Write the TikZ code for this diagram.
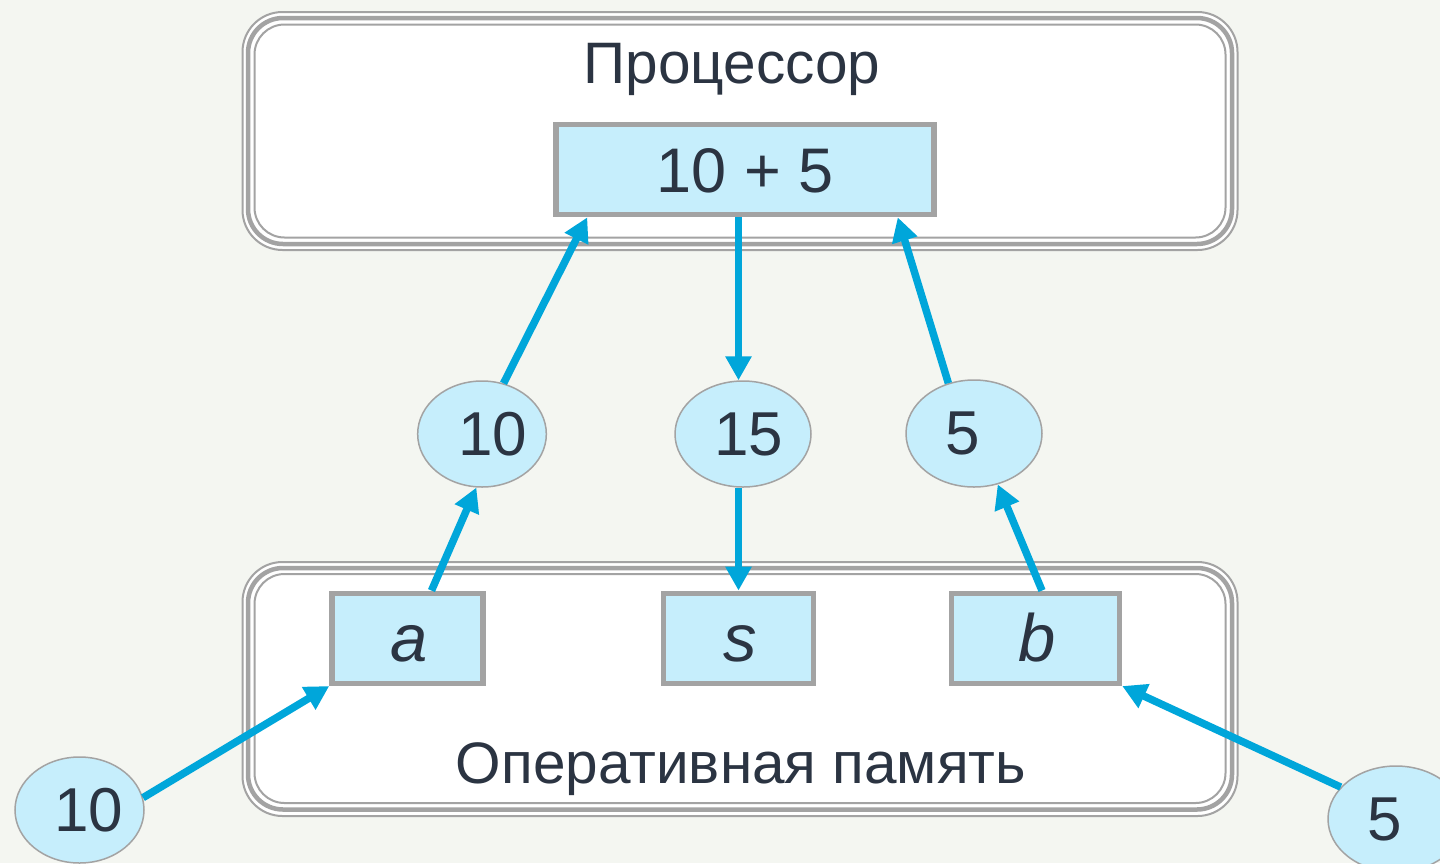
\documentclass[tikz,border=0pt]{standalone}
\usepackage{fontspec}
\setmainfont{Liberation Sans}
\usetikzlibrary{arrows.meta,shapes.geometric}
\definecolor{bgc}{HTML}{F4F6F1}
\definecolor{cellc}{HTML}{C6EEFC}
\definecolor{framec}{HTML}{A3A3A3}
\definecolor{arrowc}{HTML}{00A6DA}
\definecolor{txtc}{HTML}{2B3442}
\begin{document}
\begin{tikzpicture}[x=1pt,y=-1pt,
  cell/.style={draw=framec, fill=cellc, line width=5.5pt, inner sep=0pt,
    minimum height=90pt, text=txtc, text height=47pt, text depth=0pt,
    font=\fontsize{67}{70}\selectfont\itshape},
  val/.style={ellipse, draw=framec, fill=cellc, line width=1.5pt, inner sep=0pt,
    minimum height=106pt, text=txtc, font=\fontsize{62}{66}\selectfont},
  arr/.style={draw=arrowc, line width=7.5pt, -{Triangle[length=24pt,width=25pt]}},
  lbl/.style={text=txtc, inner sep=0pt, anchor=base, font=\fontsize{58.5}{62}\selectfont},
  frameout/.style={draw=framec, line width=2pt},
  framemid/.style={draw=framec, line width=4.5pt},
]
\useasboundingbox (0,0) rectangle (1440,863);
\fill[bgc] (0,0) rectangle (1440,863);

% Processor frame
\fill[white, rounded corners=40pt] (242.5,12) rectangle (1237.5,250);
\draw[frameout, rounded corners=40pt] (242.5,12) rectangle (1237.5,250);
\draw[framemid, rounded corners=35pt] (248,18) rectangle (1232,244);
\draw[frameout, rounded corners=30pt] (254.5,24.5) rectangle (1225.5,237.5);

% Memory frame
\fill[white, rounded corners=40pt] (242.5,562) rectangle (1237.5,816);
\draw[frameout, rounded corners=40pt] (242.5,562) rectangle (1237.5,816);
\draw[framemid, rounded corners=35pt] (248,568) rectangle (1232,809.5);
\draw[frameout, rounded corners=30pt] (254.5,574) rectangle (1225.5,803);

\node[lbl] (proclbl) at (732,83) {Процессор};
\node[lbl] (memlbl) at (741,783) {Оперативная память};

\node[cell, minimum width=378pt, text height=45pt, font=\fontsize{63}{66}\selectfont] (sum) at (745,169.6) {10 + 5};

\node[val, minimum width=122pt] (e10) at (482,434) {\hspace*{22pt}10};
\node[val, minimum width=136pt] (e15) at (743,434) {\hspace*{12pt}15};
\node[val, minimum width=136pt, minimum height=107pt] (e5) at (974,433.5) {5\hspace*{22pt}};

\node[cell, minimum width=151pt] (a) at (407.5,638.3) {\hspace*{3pt}a};
\node[cell, minimum width=150pt] (s) at (738.5,638.3) {\hspace*{3pt}s};
\node[cell, minimum width=168pt] (b) at (1035.5,638.3) {\hspace*{3pt}b};

\node[val, minimum width=129pt] (in10) at (79.5,810) {\hspace*{18pt}10};
\node[val, minimum width=136pt] (in5) at (1396,819) {5\hspace*{22pt}};

\draw[arr] (e10.67) -- ([xshift=34pt]sum.south west);
\draw[arr] (sum.south -| s.north) -- (e15.north -| s.north);
\draw[arr] (e5.117) -- ([xshift=-39pt]sum.south east);
\draw[arr] ([xshift=24pt]a.north) -- (e10.264);
\draw[arr] (e15.south -| s.north) -- (s.north);
\draw[arr] ([xshift=6.5pt]b.north) -- (e5.295);
\draw[arr] (in10.11) -- (a.south west);
\draw[arr] (in5.150) -- (b.south east);
\end{tikzpicture}
\end{document}
